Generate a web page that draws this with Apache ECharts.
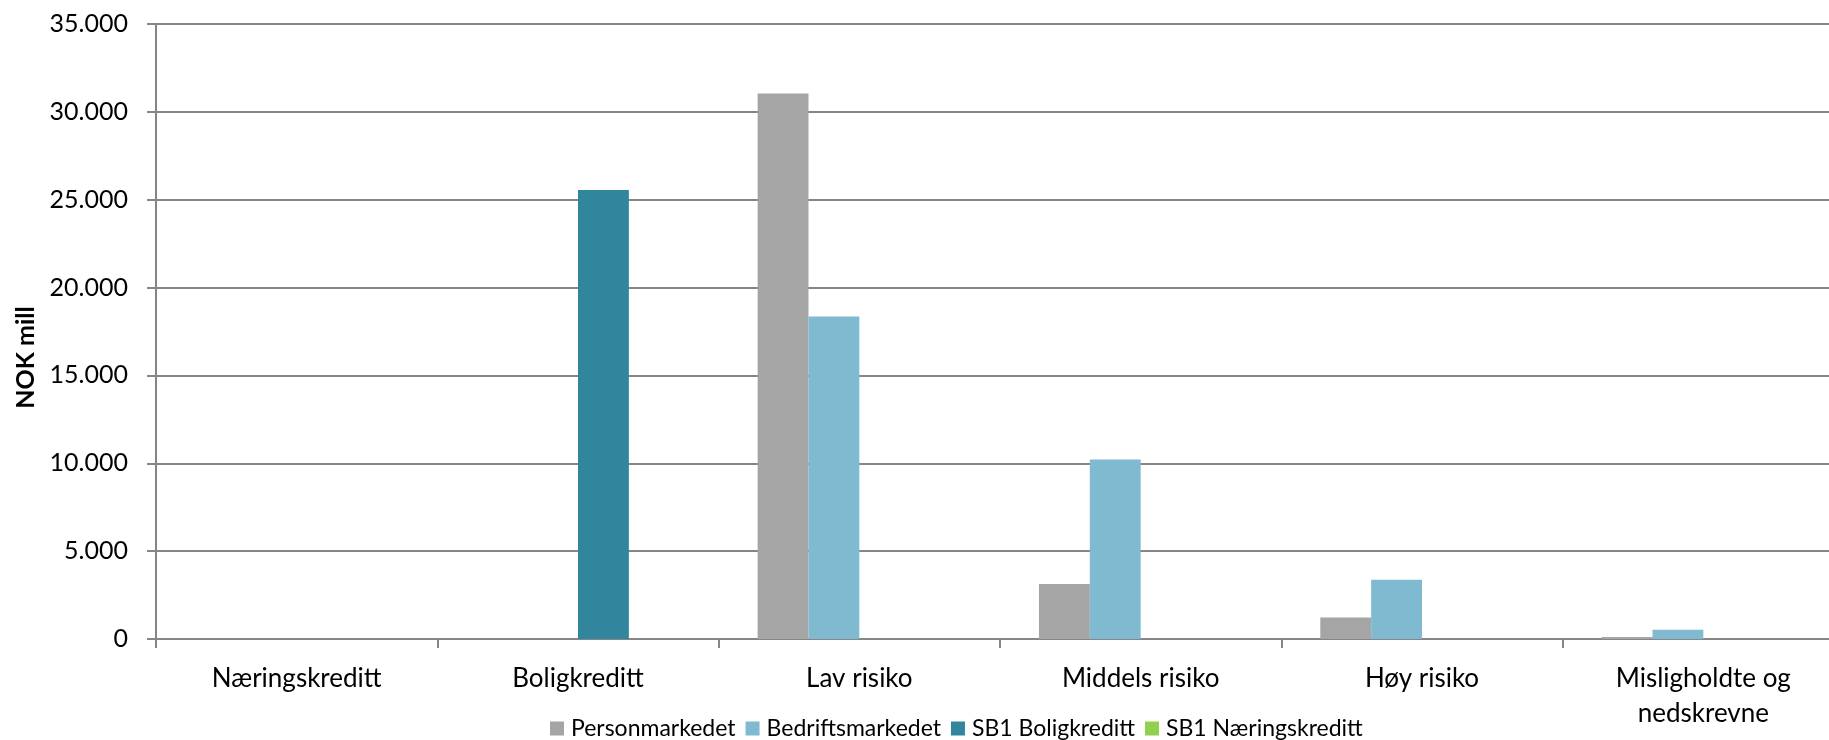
<!DOCTYPE html>
<html>
<head>
<meta charset="utf-8">
<script src="https://cdn.jsdelivr.net/npm/echarts@6/dist/echarts.min.js"></script>
<style>
    html, body { margin: 0; padding: 0; background: #fff; }
    #chart { width: 1829px; height: 740px; }
</style>
</head>
<body>
<div id="chart"></div>
<script>
    // kategorier og verdier (NOK mill), lest av figuren
    const categories = ['Næringskreditt', 'Boligkreditt', 'Lav risiko', 'Middels risiko', 'Høy risiko', 'Misligholdte og\nnedskrevne'];
    const personmarkedet = [0, 0, 31050, 3130, 1230, 110];
    const bedriftsmarkedet = [0, 0, 18350, 10210, 3375, 530];
    const sb1Boligkreditt = [0, 25550, 0, 0, 0, 0];
    const sb1Naeringskreditt = [0, 0, 0, 0, 0, 0];
    const yTicks = [0, 5000, 10000, 15000, 20000, 25000, 30000, 35000];

    const font = 'Lato, "Open Sans", sans-serif';
    const axisGray = '#868686';

    const chart = echarts.init(document.getElementById('chart'));

    const bar = (name, data, color) => ({
        name: name,
        type: 'bar',
        data: data,
        barGap: '0%',
        barCategoryGap: '27.7%',
        itemStyle: { color: color },
        emphasis: { disabled: true },
    });

    chart.setOption({
        animation: false,
        textStyle: { fontFamily: font },
        grid: { left: 156, right: -15, top: 24, bottom: 101, outerBoundsMode: 'none', containLabel: false },
        legend: {
            left: 545,
            top: 712,
            itemWidth: 14,
            itemHeight: 14,
            itemGap: 10,
            icon: 'rect',
            textStyle: { fontSize: 23, color: '#000', fontFamily: font, padding: [0, 0, 0, 2] },
            data: ['Personmarkedet', 'Bedriftsmarkedet', 'SB1 Boligkreditt', 'SB1 Næringskreditt'],
        },
        xAxis: {
            type: 'category',
            data: categories,
            axisLine: { lineStyle: { color: axisGray, width: 2 } },
            axisTick: { show: true, length: 9, alignWithLabel: false, interval: 0, lineStyle: { color: axisGray, width: 2 } },
            axisLabel: { interval: 0, margin: 22, fontSize: 26, lineHeight: 35, color: '#000', fontFamily: font },
        },
        yAxis: {
            type: 'value',
            min: yTicks[0],
            max: yTicks[yTicks.length - 1],
            interval: 5000,
            name: 'NOK mill',
            nameLocation: 'middle',
            nameGap: 113,
            nameTextStyle: { fontSize: 25, fontWeight: 'bold', color: '#000', fontFamily: font, padding: [0, 52, 0, 0] },
            axisLine: { show: true, lineStyle: { color: axisGray, width: 2 } },
            axisTick: { show: true, length: 9, lineStyle: { color: axisGray, width: 2 } },
            splitLine: { lineStyle: { color: axisGray, width: 2 } },
            axisLabel: {
                margin: 28,
                fontSize: 25,
                color: '#000',
                fontFamily: font,
                formatter: v => v === 0 ? '0' : String(v).replace(/\B(?=(\d{3})+(?!\d))/g, '.'),
            },
        },
        series: [
            bar('Personmarkedet', personmarkedet, '#A5A5A5'),
            bar('Bedriftsmarkedet', bedriftsmarkedet, '#7FBAD0'),
            bar('SB1 Boligkreditt', sb1Boligkreditt, '#31859C'),
            bar('SB1 Næringskreditt', sb1Naeringskreditt, '#92D050'),
        ],
    });
</script>
</body>
</html>
